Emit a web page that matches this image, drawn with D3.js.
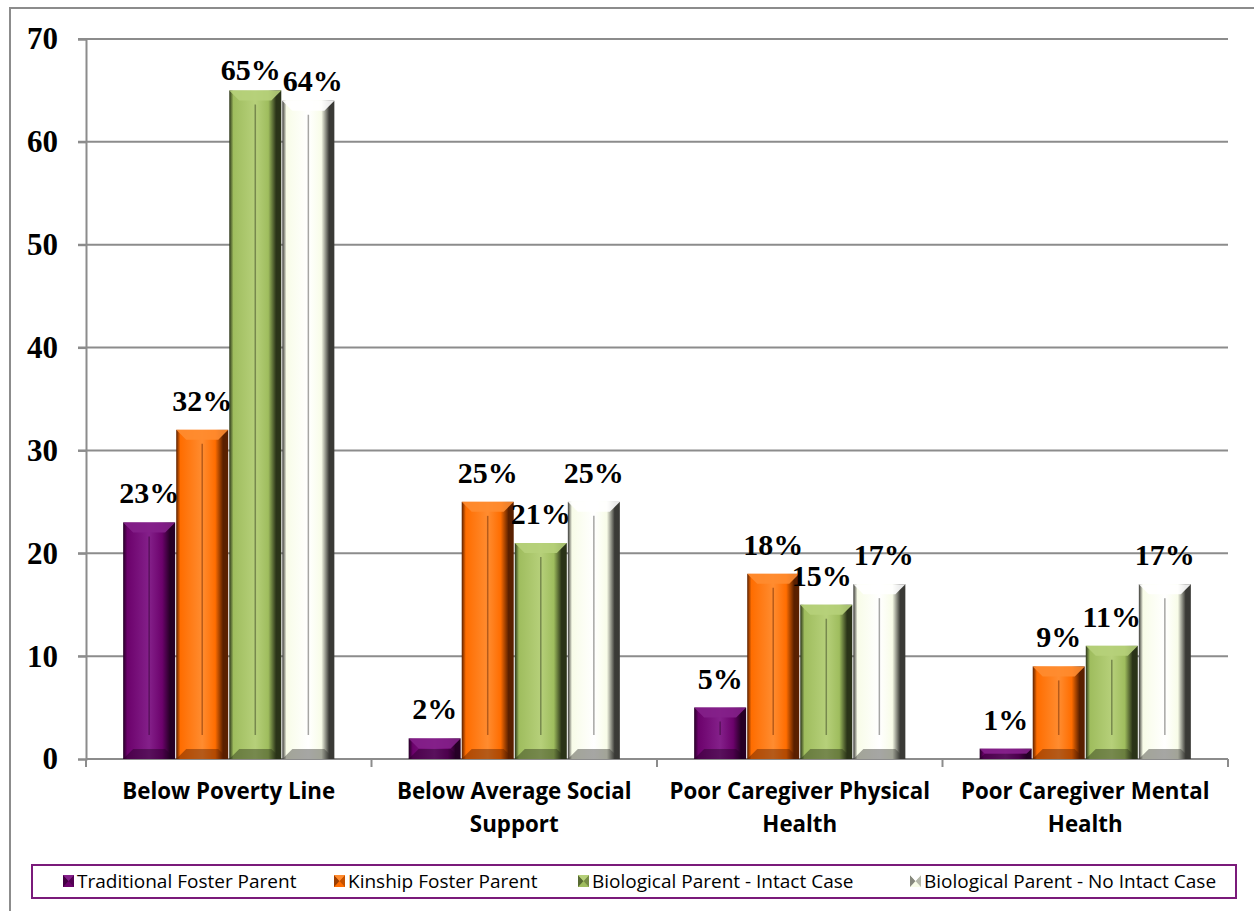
<!DOCTYPE html>
<html><head><meta charset="utf-8">
<script src="https://cdn.jsdelivr.net/npm/d3@7"></script>
<style>body{margin:0;background:#fff}svg{display:block}</style>
</head><body>
<svg id="chart" width="1254" height="911"></svg>
<script>
const categories = [["Below Poverty Line"], ["Below Average Social","Support"], ["Poor Caregiver Physical","Health"], ["Poor Caregiver Mental","Health"]];
const seriesNames = ["Traditional Foster Parent","Kinship Foster Parent","Biological Parent - Intact Case","Biological Parent - No Intact Case"];
const traditional = [23, 2, 5, 1];
const kinship = [32, 25, 18, 9];
const bioIntact = [65, 21, 15, 11];
const bioNoIntact = [64, 25, 17, 17];
const yTicks = [0,10,20,30,40,50,60,70];
const seriesValues = [traditional, kinship, bioIntact, bioNoIntact];
const colors = [
  {base:"#6c026c", light:"#84208a", dark:"#260026"},
  {base:"#ff6d00", light:"#ff8c30", dark:"#5a2000"},
  {base:"#9fbd5e", light:"#b6d07a", dark:"#2a3318"},
  {base:"#f8fce8", light:"#ffffff", dark:"#3a3a36"}
];

const svg = d3.select("#chart");
const M = {left:86, right:1228, top:39, bottom:759};
const x0 = d3.scaleBand().domain(d3.range(4)).range([M.left, M.right]).paddingInner(0).paddingOuter(0);
const x1 = d3.scaleBand().domain(d3.range(4)).range([0, x0.bandwidth()]).paddingOuter(0.7).paddingInner(0.02);
const y = d3.scaleLinear().domain([0,70]).range([M.bottom, M.top]);

// outer border
svg.append("rect").attr("x",10).attr("y",8).attr("width",1300).attr("height",1000)
  .attr("fill","none").attr("stroke","#8c8c8c").attr("stroke-width",2);

// gradients
const defs = svg.append("defs");
colors.forEach((c,i)=>{
  const g = defs.append("linearGradient").attr("id","g"+i).attr("x1","0").attr("x2","1").attr("y1","0").attr("y2","0");
  g.append("stop").attr("offset","0").attr("stop-color",c.dark);
  g.append("stop").attr("offset","0.08").attr("stop-color",c.base);
  g.append("stop").attr("offset","0.5").attr("stop-color",c.light);
  g.append("stop").attr("offset","0.75").attr("stop-color",c.base);
  g.append("stop").attr("offset","0.9").attr("stop-color",c.dark);
  g.append("stop").attr("offset","1").attr("stop-color",c.dark);
});

// gridlines
svg.append("g").selectAll("line").data(yTicks.filter(d=>d>0)).join("line")
  .attr("x1",M.left-8).attr("x2",M.right).attr("y1",d=>y(d)).attr("y2",d=>y(d))
  .attr("stroke","#8c8c8c").attr("stroke-width",2);

// y axis
const yAxis = svg.append("g").attr("transform",`translate(${M.left},0)`)
  .call(d3.axisLeft(y).tickValues(yTicks).tickSize(8).tickPadding(20));
yAxis.select(".domain").attr("stroke","#8c8c8c").attr("stroke-width",2);
yAxis.selectAll(".tick line").attr("stroke","#8c8c8c").attr("stroke-width",2);
yAxis.selectAll("text").attr("font-family","Liberation Serif, Times New Roman, serif")
  .attr("font-weight","bold").attr("font-size",31).attr("fill","#000");

// x axis baseline + ticks
svg.append("line").attr("x1",M.left).attr("x2",M.right).attr("y1",y(0)).attr("y2",y(0))
  .attr("stroke","#8c8c8c").attr("stroke-width",2);
svg.append("g").selectAll("line").data(d3.range(5)).join("line")
  .attr("x1",d=>M.left+d*x0.bandwidth()).attr("x2",d=>M.left+d*x0.bandwidth())
  .attr("y1",y(0)).attr("y2",y(0)+8).attr("stroke","#8c8c8c").attr("stroke-width",2);

// bars
const bw = x1.bandwidth();
const labels = [];
seriesValues.forEach((vals,si)=>{
  const c = colors[si];
  vals.forEach((v,ci)=>{
    const bx = x0(ci)+x1(si), by = y(v), bh = y(0)-y(v);
    const g = svg.append("g");
    g.append("rect").attr("x",bx).attr("y",by).attr("width",bw).attr("height",bh).attr("fill",`url(#g${si})`);
    const bev = Math.min(10, bh/2);
    g.append("path").attr("d",`M${bx},${by}L${bx+bw},${by}L${bx+bw-bev},${by+bev}L${bx+bev},${by+bev}Z`)
      .attr("fill",c.light).attr("opacity",0.9);
    g.append("path").attr("d",`M${bx},${by+bh}L${bx+bw},${by+bh}L${bx+bw-bev},${by+bh-bev}L${bx+bev},${by+bh-bev}Z`)
      .attr("fill",c.dark).attr("opacity",0.45);
    if (bh > 30) g.append("line").attr("x1",bx+bw/2).attr("x2",bx+bw/2).attr("y1",by+bev+4).attr("y2",by+bh-bev-14)
      .attr("stroke",c.dark).attr("stroke-opacity",0.45).attr("stroke-width",1.5);
  });
});
const labelG = svg.append("g");
seriesValues.forEach((vals,si)=>{
  vals.forEach((v,ci)=>{
    const bx = x0(ci)+x1(si), by = y(v);
    const off = v > 60 ? 10 : 19;
    const t = labelG.append("text").attr("x",bx+bw/2).attr("y",by-off).attr("text-anchor","middle")
      .attr("font-family","Liberation Serif, Times New Roman, serif").attr("font-weight","bold")
      .attr("font-size",30).attr("fill","#000").text(v+"%");
    labels.push({t, cx:bx+bw/2, ci, si});
  });
});
// nudge apart neighbouring labels that would collide
for (let ci=0; ci<4; ci++){
  const row = labels.filter(l=>l.ci===ci).sort((a,b)=>a.si-b.si);
  for (let k=1;k<row.length;k++){
    const a=row[k-1].t.node().getBBox(), b=row[k].t.node().getBBox();
    const ov = (a.x+a.width) - b.x;
    const vov = Math.min(a.y+a.height,b.y+b.height) - Math.max(a.y,b.y);
    if (ov>0 && vov>4){
      row[k-1].t.attr("x", +row[k-1].t.attr("x") - ov/2 - 1);
      row[k].t.attr("x", +row[k].t.attr("x") + ov/2 + 1);
    }
  }
}

// category labels
categories.forEach((lines,i)=>{
  const cx = x0(i)+x0.bandwidth()/2;
  const t = svg.append("text").attr("x",cx).attr("y",799).attr("text-anchor","middle")
    .attr("font-family","Open Sans, sans-serif").attr("font-weight","bold").attr("font-size",22.3).attr("fill","#000");
  lines.forEach((l,j)=>t.append("tspan").attr("x",cx).attr("dy",j?33:0).text(l));
});

// legend
svg.append("rect").attr("x",32).attr("y",865).attr("width",1204).attr("height",33)
  .attr("fill","#fff").attr("stroke","#7a1a7a").attr("stroke-width",2);
const legX = [63, 334, 578, 910];
seriesNames.forEach((n,i)=>{
  const c = colors[i];
  const lx = legX[i], ly = 875, kw = 11, kh = 12;
  svg.append("rect").attr("x",lx).attr("y",ly).attr("width",kw).attr("height",kh).attr("fill",c.base);
  svg.append("path").attr("d",`M${lx},${ly}L${lx+kw/2},${ly+kh/2}L${lx},${ly+kh}Z`).attr("fill",c.dark).attr("opacity",0.6);
  svg.append("path").attr("d",`M${lx+kw},${ly}L${lx+kw/2},${ly+kh/2}L${lx+kw},${ly+kh}Z`).attr("fill",c.dark).attr("opacity",0.35);
  svg.append("path").attr("d",`M${lx},${ly}L${lx+kw},${ly}L${lx+kw/2},${ly+kh/2}Z`).attr("fill",c.light);
  svg.append("text").attr("x",lx+kw+3).attr("y",ly+13).attr("font-family","Open Sans, sans-serif")
    .attr("font-size",19).attr("fill","#000").text(n);
});
</script>
</body></html>
